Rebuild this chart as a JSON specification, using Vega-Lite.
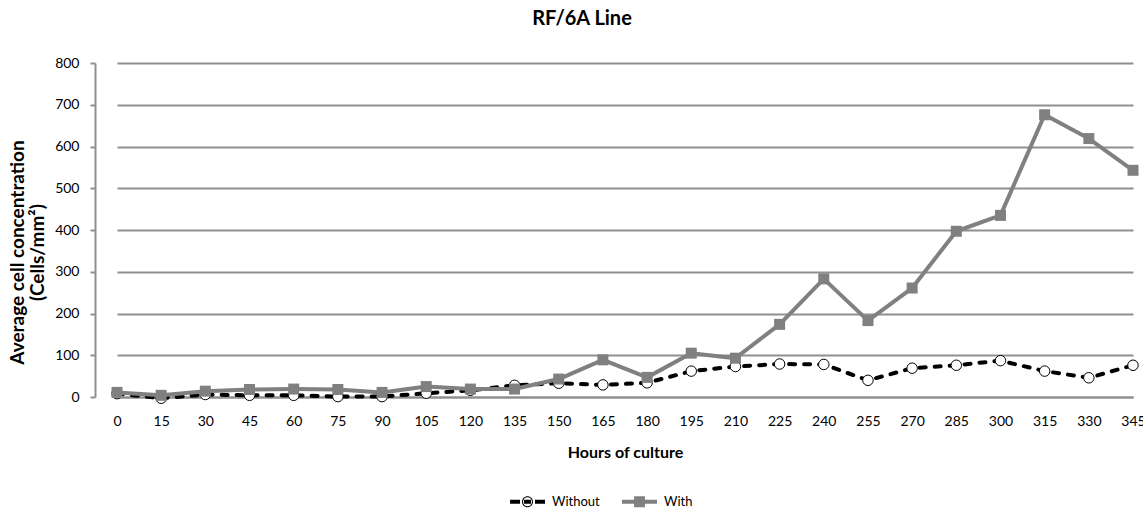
{
  "$schema": "https://vega.github.io/schema/vega-lite/v6.json",
  "width": 1048,
  "height": 334,
  "autosize": "none",
  "padding": {"left": 95, "top": 63, "right": 0, "bottom": 111},
  "background": "white",
  "title": {
    "text": "RF/6A Line",
    "font": "Lato",
    "fontSize": 20,
    "fontWeight": "bold",
    "color": "#000000",
    "anchor": "middle",
    "frame": "group",
    "dx": -37,
    "offset": 27
  },
  "data": {
    "values": [
      {"hours": 0, "series": "Without", "value": 8}, {"hours": 0, "series": "With", "value": 11},
      {"hours": 15, "series": "Without", "value": -3}, {"hours": 15, "series": "With", "value": 4},
      {"hours": 30, "series": "Without", "value": 6}, {"hours": 30, "series": "With", "value": 14},
      {"hours": 45, "series": "Without", "value": 4}, {"hours": 45, "series": "With", "value": 18},
      {"hours": 60, "series": "Without", "value": 4}, {"hours": 60, "series": "With", "value": 19},
      {"hours": 75, "series": "Without", "value": 1}, {"hours": 75, "series": "With", "value": 18},
      {"hours": 90, "series": "Without", "value": 1}, {"hours": 90, "series": "With", "value": 11},
      {"hours": 105, "series": "Without", "value": 9}, {"hours": 105, "series": "With", "value": 25},
      {"hours": 120, "series": "Without", "value": 16}, {"hours": 120, "series": "With", "value": 19},
      {"hours": 135, "series": "Without", "value": 28}, {"hours": 135, "series": "With", "value": 19},
      {"hours": 150, "series": "Without", "value": 33}, {"hours": 150, "series": "With", "value": 43},
      {"hours": 165, "series": "Without", "value": 29}, {"hours": 165, "series": "With", "value": 89},
      {"hours": 180, "series": "Without", "value": 34}, {"hours": 180, "series": "With", "value": 47},
      {"hours": 195, "series": "Without", "value": 62}, {"hours": 195, "series": "With", "value": 105},
      {"hours": 210, "series": "Without", "value": 73}, {"hours": 210, "series": "With", "value": 93},
      {"hours": 225, "series": "Without", "value": 79}, {"hours": 225, "series": "With", "value": 174},
      {"hours": 240, "series": "Without", "value": 78}, {"hours": 240, "series": "With", "value": 283},
      {"hours": 255, "series": "Without", "value": 40}, {"hours": 255, "series": "With", "value": 183},
      {"hours": 270, "series": "Without", "value": 69}, {"hours": 270, "series": "With", "value": 261},
      {"hours": 285, "series": "Without", "value": 76}, {"hours": 285, "series": "With", "value": 397},
      {"hours": 300, "series": "Without", "value": 87}, {"hours": 300, "series": "With", "value": 435},
      {"hours": 315, "series": "Without", "value": 62}, {"hours": 315, "series": "With", "value": 676},
      {"hours": 330, "series": "Without", "value": 46}, {"hours": 330, "series": "With", "value": 619},
      {"hours": 345, "series": "Without", "value": 76}, {"hours": 345, "series": "With", "value": 543}
    ]
  },
  "encoding": {
    "x": {
      "field": "hours",
      "type": "ordinal",
      "scale": {"type": "point", "range": [22, 1038], "padding": 0},
      "axis": {
        "title": "Hours of culture",
        "titleFont": "Lato",
        "titleFontSize": 16,
        "titleFontWeight": "bold",
        "titleColor": "#000000",
        "titlePadding": 16,
        "labelAngle": 0,
        "labelFont": "Lato",
        "labelFontSize": 14,
        "labelColor": "#000000",
        "labelPadding": 17,
        "ticks": false,
        "grid": false,
        "domain": true,
        "domainColor": "#8f8f8f",
        "domainWidth": 2
      }
    },
    "y": {
      "field": "value",
      "type": "quantitative",
      "scale": {"domain": [0, 800], "nice": false, "zero": false},
      "axis": {
        "values": [0, 100, 200, 300, 400, 500, 600, 700, 800],
        "title": ["Average cell concentration", "(Cells/mm²)"],
        "titleFont": "Lato",
        "titleFontSize": 19,
        "titleFontWeight": "bold",
        "titleColor": "#000000",
        "titleAngle": 270,
        "titleAlign": "center",
        "titleBaseline": "middle",
        "titleLineHeight": 20,
        "titleX": -78,
        "titleY": 189,
        "labelFont": "Lato",
        "labelFontSize": 14,
        "labelColor": "#000000",
        "labelPadding": 11,
        "tickSize": 5,
        "tickColor": "#8f8f8f",
        "tickWidth": 2,
        "grid": true,
        "gridColor": "#8f8f8f",
        "gridWidth": 2,
        "domain": true,
        "domainColor": "#8f8f8f",
        "domainWidth": 2
      }
    }
  },
  "layer": [
    {
      "transform": [{"filter": "datum.series === 'Without'"}],
      "mark": {"type": "line", "strokeWidth": 4, "strokeDash": [6, 9], "strokeCap": "round", "strokeJoin": "round"},
      "encoding": {
        "color": {
          "field": "series",
          "type": "nominal",
          "scale": {"domain": ["Without", "With"], "range": ["#000000", "#808080"]},
          "legend": {
            "title": null,
            "orient": "none",
            "legendX": 415,
            "legendY": 421,
            "direction": "horizontal",
            "padding": 0,
            "symbolSize": 1225,
            "labelFont": "Lato",
            "labelFontSize": 13,
            "labelColor": "#000000",
            "labelOffset": 7,
            "columnPadding": 22,
            "encode": {
              "symbols": {
                "update": {
                  "shape": {"signal": "datum.value === 'With' ? 'M-1,-0.11H1V0.11H-1ZM-0.31,-0.31H0.31V0.31H-0.31Z' : 'M-1,-0.11H-0.43V0.11H-1ZM0.43,-0.11H1V0.11H0.43ZM-0.2,-0.11H0.2V0.11H-0.2ZM-0.314,0A0.314,0.314 0 1,1 0.314,0A0.314,0.314 0 1,1 -0.314,0ZM-0.257,0A0.257,0.257 0 1,0 0.257,0A0.257,0.257 0 1,0 -0.257,0Z'"},
                  "fill": {"signal": "datum.value === 'With' ? '#808080' : '#000000'"},
                  "fillOpacity": {"value": 1},
                  "stroke": {"value": "transparent"},
                  "strokeWidth": {"value": 0},
                  "strokeDash": {"value": [1, 0]},
                  "opacity": {"value": 1}
                }
              }
            }
          }
        }
      }
    },
    {
      "transform": [{"filter": "datum.series === 'Without'"}],
      "mark": {"type": "point", "shape": "circle", "filled": true, "fill": "#ffffff", "stroke": "#000000", "strokeWidth": 1, "size": 110, "opacity": 1}
    },
    {
      "transform": [{"filter": "datum.series === 'With'"}],
      "mark": {"type": "line", "strokeWidth": 4, "strokeJoin": "round"},
      "encoding": {
        "color": {"field": "series", "type": "nominal"}
      }
    },
    {
      "transform": [{"filter": "datum.series === 'With'"}],
      "mark": {"type": "square", "filled": true, "color": "#808080", "size": 121, "opacity": 1}
    }
  ],
  "config": {
    "view": {"stroke": null}
  }
}
